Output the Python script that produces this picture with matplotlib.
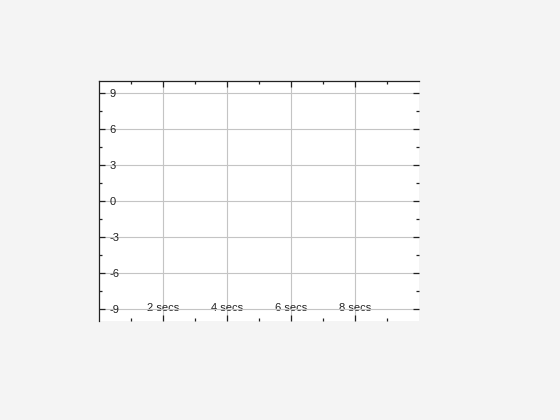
import matplotlib
matplotlib.use("Agg")
import matplotlib.pyplot as plt
from matplotlib.ticker import FixedLocator

# Data / labels
x_major = [2, 4, 6, 8]
x_minor = [1, 3, 5, 7, 9]
x_labels = ["2 secs", "4 secs", "6 secs", "8 secs"]
y_major = [9, 6, 3, 0, -3, -6, -9]
y_minor = [7.5, 4.5, 1.5, -1.5, -4.5, -7.5]
y_labels = ["9", "6", "3", "0", "-3", "-6", "-9"]
x_range = [0, 10]
y_range = [-10, 10]

plt.rcParams['font.family'] = ['Liberation Sans', 'DejaVu Sans']

fig = plt.figure(figsize=(5.6, 4.2), dpi=100)
fig.patch.set_facecolor('#f4f4f4')
ax = fig.add_axes([99/560, (420-321)/420, 320/560, 240/420])
ax.set_facecolor('white')
ax.set_xlim(*x_range)
ax.set_ylim(*y_range)

for s in ['right', 'bottom']:
    ax.spines[s].set_visible(False)
for s in ['top', 'left']:
    ax.spines[s].set_color('#222222')
    ax.spines[s].set_linewidth(0.9)

ax.xaxis.set_major_locator(FixedLocator(x_major))
ax.xaxis.set_minor_locator(FixedLocator(x_minor))
ax.yaxis.set_major_locator(FixedLocator(y_major))
ax.yaxis.set_minor_locator(FixedLocator(y_minor))
ax.set_xticklabels(x_labels)
ax.set_yticklabels(y_labels)

ax.grid(True, which='major', color='#c4c4c4', linewidth=0.8)
ax.set_axisbelow(True)

ax.tick_params(axis='both', which='both', direction='in', color='#222222',
               top=True, right=True, bottom=True, left=True, width=0.9)
ax.tick_params(axis='both', which='major', length=4.0)
ax.tick_params(axis='both', which='minor', length=2.0)
ax.tick_params(axis='x', which='major', labelsize=8, pad=-13, labelcolor='#222222')
ax.tick_params(axis='y', which='major', labelsize=8, pad=-7.5, labelcolor='#222222')
for lbl in ax.get_yticklabels():
    lbl.set_horizontalalignment('left')

fig.savefig('out.png', dpi=100, facecolor=fig.get_facecolor())
